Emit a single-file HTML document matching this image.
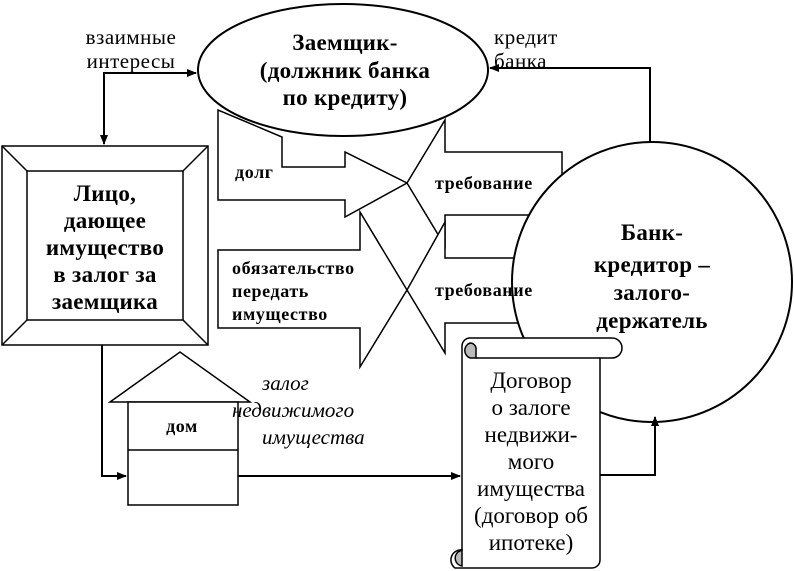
<!DOCTYPE html>
<html><head><meta charset="utf-8"><style>
html,body{margin:0;padding:0;background:#fff}
svg{display:block}
text{font-family:"Liberation Serif",serif;fill:#000}
.b{font-weight:bold}
</style></head><body>
<svg width="794" height="571" viewBox="0 0 794 571" xmlns="http://www.w3.org/2000/svg">
<defs><marker id="a" markerWidth="10" markerHeight="10" refX="9" refY="5" orient="auto" markerUnits="userSpaceOnUse"><path d="M0,1 L10,5 L0,9 z" fill="#000"/></marker></defs>
<g fill="none" stroke="#000" stroke-width="2">
<polyline points="104,143 104,73 196,73" marker-end="url(#a)"/>
<line x1="104" y1="100" x2="104" y2="144" marker-end="url(#a)"/>
<polyline points="650,150 650,68 490,68" marker-end="url(#a)"/>
</g>
<ellipse cx="343" cy="70" rx="145" ry="66" fill="#fff" stroke="#000" stroke-width="2"/>
<g fill="#fff" stroke="#000" stroke-width="1.5">
<rect x="2" y="146" width="206" height="199"/>
<rect x="27" y="171" width="156" height="149"/>
<line x1="2" y1="146" x2="27" y2="171"/><line x1="208" y1="146" x2="183" y2="171"/>
<line x1="2" y1="345" x2="27" y2="320"/><line x1="208" y1="345" x2="183" y2="320"/>
</g>
<g fill="#fff" stroke="#000" stroke-width="1.5">
<polygon points="282,137 282,167 345,167 345,152 407,183 345,217 345,200 218,200 218,110"/>
<polygon points="562,152 445,152 445,120 407,183 445,246 445,215 562,215"/>
<polygon points="218,250 360,250 360,212 407,290 360,367 360,328 218,328"/>
<polygon points="562,258 445,258 445,222 407,290 445,353 445,323 562,323"/>
</g>
<circle cx="652" cy="282" r="140" fill="#fff" stroke="#000" stroke-width="2"/>
<g fill="#fff" stroke="#000" stroke-width="1.5">
<polygon points="110,402 180,352 250,402"/>
<rect x="128" y="402" width="110" height="103"/>
<line x1="128" y1="450" x2="238" y2="450"/>
</g>
<g fill="none" stroke="#000" stroke-width="2">
<polyline points="102,345 102,476 126,476" marker-end="url(#a)"/>
<line x1="238" y1="476" x2="460" y2="476" marker-end="url(#a)"/>
<polyline points="600,475 655,475 655,417" marker-end="url(#a)"/>
</g>
<g stroke="#000" stroke-width="1.5">
<path d="M470,338 L612,338 A10,10 0 0 1 612,358 L600,358 L600,560 A8,8 0 0 1 592,568 L455,568 A10,10 0 0 1 462,550 L462,346 A8,8 0 0 1 470,338 Z" fill="#fff"/>
<path d="M470,358 A8,8 0 0 1 470,343 A6,6 0 0 1 476,350 L476,358 Z" fill="#bbb"/>
<line x1="476" y1="358" x2="600" y2="358" fill="none"/>
<path d="M462,566 A8,8 0 0 1 458,552 L462,550 L462,560 Z" fill="#bbb"/>
</g>
<g font-size="21" letter-spacing="0.5">
<text x="131" y="44" text-anchor="middle">взаимные</text>
<text x="131" y="68" text-anchor="middle">интересы</text>
<text x="494" y="44">кредит</text>
<text x="494" y="68">банка</text>
</g>
<g class="b" font-size="23" text-anchor="middle" letter-spacing="0.3">
<text x="345" y="50">Заемщик-</text>
<text x="345" y="78">(должник банка</text>
<text x="345" y="105">по кредиту)</text>
<text x="105" y="201">Лицо,</text>
<text x="105" y="228">дающее</text>
<text x="105" y="255">имущество</text>
<text x="105" y="282">в залог за</text>
<text x="105" y="309">заемщика</text>
<text x="652" y="240">Банк-</text>
<text x="652" y="272">кредитор –</text>
<text x="652" y="300">залого-</text>
<text x="652" y="328">держатель</text>
</g>
<g class="b" font-size="18" letter-spacing="0.6">
<text x="235" y="178">долг</text>
<text x="435" y="189">требование</text>
<text x="435" y="296">требование</text>
<text x="232" y="274">обязательство</text>
<text x="232" y="297">передать</text>
<text x="232" y="320">имущество</text>
<text x="182" y="432" text-anchor="middle">дом</text>
</g>
<g font-size="21" font-style="italic">
<text x="262" y="390">залог</text>
<text x="232" y="417">недвижимого</text>
<text x="262" y="444">имущества</text>
</g>
<g font-size="23" text-anchor="middle">
<text x="531" y="388">Договор</text>
<text x="531" y="415">о залоге</text>
<text x="531" y="442">недвижи-</text>
<text x="531" y="469">мого</text>
<text x="531" y="496">имущества</text>
<text x="531" y="523">(договор об</text>
<text x="531" y="550">ипотеке)</text>
</g>
</svg>
</body></html>
